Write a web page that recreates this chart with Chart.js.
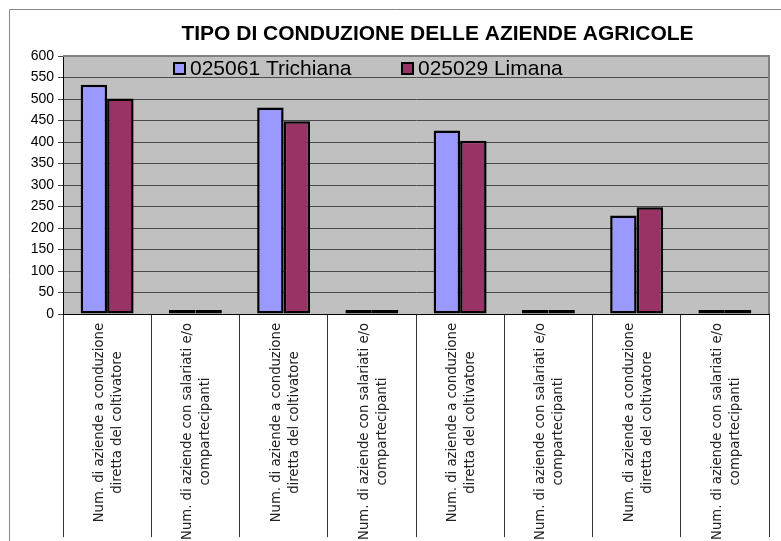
<!DOCTYPE html>
<html lang="it">
<head>
    <meta charset="UTF-8">
    <title>Tipo di conduzione delle aziende agricole</title>
    <script src="https://cdn.jsdelivr.net/npm/chart.js"></script>
    <style>
        body {
            margin: 0;
            background: #fff;
        }
        #chartBox {
            width: 781px;
            height: 541px;
        }
    </style>
</head>
<body>
    <div id="chartBox">
        <canvas id="aziendeChart" width="781" height="541"></canvas>
    </div>

    <script>
        // data
        const titleText = 'TIPO DI CONDUZIONE DELLE AZIENDE AGRICOLE';
        const categories = [
            ['Num. di aziende a conduzione', 'diretta del coltivatore'],
            ['Num. di aziende con salariati e/o', 'compartecipanti'],
            ['Num. di aziende a conduzione', 'diretta del coltivatore'],
            ['Num. di aziende con salariati e/o', 'compartecipanti'],
            ['Num. di aziende a conduzione', 'diretta del coltivatore'],
            ['Num. di aziende con salariati e/o', 'compartecipanti'],
            ['Num. di aziende a conduzione', 'diretta del coltivatore'],
            ['Num. di aziende con salariati e/o', 'compartecipanti']
        ];
        const seriesNames = ['025061 Trichiana', '025029 Limana'];
        const trichiana = [533, 4, 480, 4, 427, 3, 229, 3];
        const limana = [501, 7, 448, 7, 403, 3, 248, 5];
        const yMin = 0;
        const yMax = 600;
        const yStep = 50;

        // frame, plot background, title, legend and category labels
        const decorPlugin = {
            id: 'decor',
            beforeDraw(chart) {
                const { ctx, chartArea: a } = chart;
                ctx.save();
                ctx.fillStyle = '#C0C0C0';
                ctx.fillRect(a.left, a.top, a.right - a.left, a.bottom - a.top);
                // outer frame
                ctx.strokeStyle = '#888';
                ctx.lineWidth = 1;
                ctx.beginPath();
                ctx.moveTo(9.5, 545);
                ctx.lineTo(9.5, 9.5);
                ctx.lineTo(790, 9.5);
                ctx.stroke();
                ctx.restore();
            },
            afterDraw(chart) {
                const { ctx, chartArea: a } = chart;
                ctx.save();

                // plot frame top / right
                ctx.strokeStyle = '#808080';
                ctx.lineWidth = 2;
                ctx.beginPath();
                ctx.moveTo(a.left, a.top);
                ctx.lineTo(a.right, a.top);
                ctx.lineTo(a.right, a.bottom);
                ctx.stroke();

                // title
                ctx.fillStyle = '#000';
                ctx.font = 'bold 21px "Liberation Sans", Arial, sans-serif';
                ctx.textAlign = 'center';
                ctx.textBaseline = 'alphabetic';
                ctx.fillText(titleText, 437.5, 40);

                // legend inside plot
                const legendX = [174, 402];
                ctx.font = '21px "Liberation Sans", Arial, sans-serif';
                ctx.textAlign = 'left';
                chart.data.datasets.forEach((ds, i) => {
                    ctx.fillStyle = ds.backgroundColor;
                    ctx.fillRect(legendX[i], 63, 11, 11);
                    ctx.strokeStyle = '#000';
                    ctx.lineWidth = 2;
                    ctx.strokeRect(legendX[i], 63, 11, 11);
                    ctx.fillStyle = '#000';
                    ctx.fillText(ds.label, legendX[i] + 16, 75);
                });

                // rotated category labels
                const xScale = chart.scales.x;
                ctx.font = '13.2px "DejaVu Sans", sans-serif';
                ctx.fillStyle = '#222';
                ctx.textAlign = 'center';
                ctx.textBaseline = 'middle';
                const lineH = 18;
                categories.forEach((lines, i) => {
                    const x = xScale.getPixelForValue(i) + 1.5;
                    const maxW = Math.max(...lines.map(l => ctx.measureText(l).width));
                    ctx.save();
                    ctx.translate(x, a.bottom + 9 + maxW / 2);
                    ctx.rotate(-Math.PI / 2);
                    lines.forEach((l, j) => {
                        ctx.fillText(l, 0, (j - (lines.length - 1) / 2) * lineH);
                    });
                    ctx.restore();
                });

                ctx.restore();
            }
        };

        const ctx = document.getElementById('aziendeChart').getContext('2d');
        new Chart(ctx, {
            type: 'bar',
            data: {
                labels: categories,
                datasets: [
                    {
                        label: seriesNames[0],
                        data: trichiana,
                        backgroundColor: '#9999FF',
                        borderColor: '#000',
                        borderWidth: 2.5,
                        borderSkipped: false,
                        minBarLength: 4
                    },
                    {
                        label: seriesNames[1],
                        data: limana,
                        backgroundColor: '#993366',
                        borderColor: '#000',
                        borderWidth: 2.5,
                        borderSkipped: false,
                        minBarLength: 4
                    }
                ]
            },
            options: {
                responsive: false,
                animation: false,
                layout: {
                    padding: { top: 56, left: 9, right: 12, bottom: 4 }
                },
                datasets: {
                    bar: {
                        categoryPercentage: 0.6,
                        barPercentage: 1
                    }
                },
                plugins: {
                    legend: { display: false },
                    title: { display: false },
                    tooltip: { enabled: false }
                },
                scales: {
                    x: {
                        offset: true,
                        grid: {
                            offset: true,
                            drawOnChartArea: false,
                            drawTicks: true,
                            tickLength: 223,
                            color: '#333',
                            lineWidth: 1
                        },
                        ticks: { display: false },
                        border: { display: true, color: '#000', width: 1 }
                    },
                    y: {
                        min: yMin,
                        max: yMax,
                        ticks: {
                            stepSize: yStep,
                            color: '#000',
                            padding: 4,
                            font: { family: '"Liberation Sans", Arial, sans-serif', size: 14 }
                        },
                        grid: {
                            color: '#4a4a4a',
                            lineWidth: 1,
                            tickLength: 5
                        },
                        border: { display: true, color: '#000', width: 1 },
                        afterFit(scale) {
                            scale.width = 54;
                        }
                    }
                }
            },
            plugins: [decorPlugin]
        });
    </script>
</body>
</html>
